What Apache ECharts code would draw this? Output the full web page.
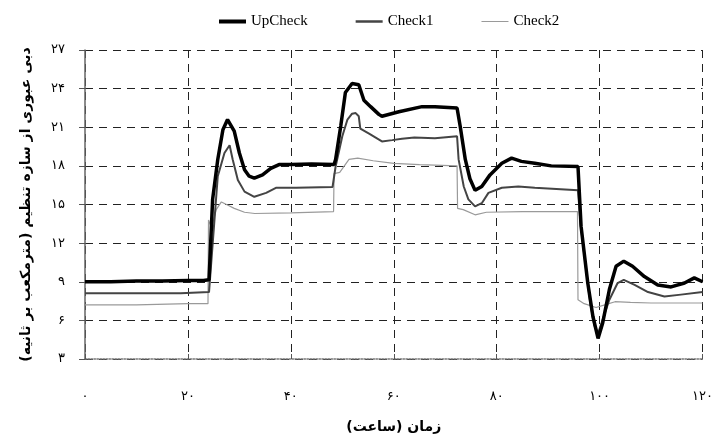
<!DOCTYPE html>
<html>
<head>
<meta charset="utf-8">
<script src="https://cdn.jsdelivr.net/npm/echarts@6/dist/echarts.min.js"></script>
<style>
  html, body { margin: 0; padding: 0; background: #fff; }
  #chart { width: 716px; height: 441px; }
</style>
</head>
<body>
<div id="chart"></div>
<script>
  // time (hours) and flow values
  var upTime = [0, 5, 10, 15, 20, 23, 24.1, 24.8, 25.8, 26.8, 27.7, 29.0, 30.0, 31.0, 31.9, 32.9, 34.5, 36.1, 37.7, 40, 44, 48.4,
    48.7, 49.7, 50.6, 51.9, 53.2, 54.2, 55.5, 57.1, 57.7, 61, 65.5, 68, 72.3,
    72.9, 73.9, 74.8, 75.8, 77.1, 78.7, 81.0, 82.9, 84.8, 87.4, 90.6, 95.8,
    96.4, 97.7, 98.7, 99.7, 100.6, 101.9, 103.2, 104.7, 106.4, 108.7, 111.3, 113.9, 116.5, 118.4, 120];
  var upValues = [9.0, 9.0, 9.05, 9.05, 9.1, 9.1, 9.15, 15.4, 18.5, 20.8, 21.6, 20.7, 19.0, 17.7, 17.2, 17.05, 17.3, 17.8, 18.1, 18.1, 18.15, 18.1,
    18.5, 21.1, 23.7, 24.4, 24.3, 23.1, 22.6, 22.0, 21.85, 22.2, 22.6, 22.6, 22.5,
    21.1, 18.5, 17.0, 16.1, 16.4, 17.3, 18.2, 18.6, 18.35, 18.2, 18.0, 17.95,
    13.3, 8.9, 6.3, 4.6, 5.8, 8.4, 10.2, 10.6, 10.2, 9.4, 8.75, 8.6, 8.9, 9.3, 9.0];

  var check1Time = [0, 10, 18.6, 18.7, 24.1, 25.8, 27.1, 28.1, 28.7, 29.7, 31.0, 32.9, 35.2, 37.1, 41, 48.1,
    48.7, 50.0, 51.0, 51.9, 52.6, 53.2, 53.5, 55.2, 57.7, 59.7, 61.6, 64, 68, 72.3,
    72.6, 73.6, 74.5, 75.8, 77.1, 78.4, 78.7, 81, 84.2, 87.4, 95.8,
    96.3, 97.2, 98.2, 99.0, 99.7, 101.9, 103.5, 104.7, 106.8, 109.4, 112.6, 115.8, 120];
  var check1Values = [8.1, 8.1, 8.1, 8.2, 8.2, 17.2, 19.0, 19.6, 18.5, 16.9, 16.0, 15.6, 15.9, 16.3, 16.3, 16.35,
    17.95, 20.3, 21.6, 22.05, 22.1, 21.85, 20.9, 20.5, 19.9, 20.0, 20.1, 20.2, 20.15, 20.3,
    18.5, 16.4, 15.4, 14.85, 15.1, 15.9, 16.0, 16.3, 16.4, 16.3, 16.1,
    13.5, 10.5, 7.3, 5.6, 5.0, 7.6, 8.9, 9.15, 8.75, 8.2, 7.85, 8.0, 8.2];

  var check2Time = [0, 10, 20, 23.9, 24.0, 24.6, 25.5, 26.5, 27.5, 29, 31, 33, 40, 48.3,
    48.4, 49.5, 51.3, 53, 56, 60, 65, 72.3,
    72.4, 73.5, 75.8, 78, 85, 95.7,
    95.8, 97, 99.3, 101, 103, 106, 110, 120];
  var check2Values = [7.2, 7.2, 7.3, 7.3, 13.8, 13.2, 14.6, 15.2, 15.0, 14.7, 14.4, 14.3, 14.35, 14.45,
    17.4, 17.5, 18.5, 18.6, 18.4, 18.2, 18.1, 18.0,
    14.7, 14.6, 14.2, 14.4, 14.45, 14.45,
    7.6, 7.3, 7.0, 7.2, 7.45, 7.4, 7.35, 7.35];

  var seriesNames = ['UpCheck', 'Check1', 'Check2'];

  function toFa(v) {
    return String(v).replace(/\d/g, function (d) { return '۰۱۲۳۴۵۶۷۸۹'[d]; });
  }
  function pairs(t, v) {
    return t.map(function (x, i) { return [x, v[i]]; });
  }

  var chart = echarts.init(document.getElementById('chart'));
  chart.setOption({
    animation: false,
    backgroundColor: '#fff',
    legend: {
      top: 9,
      left: 214,
      itemWidth: 27,
      itemHeight: 12,
      itemGap: 48,
      symbolKeepAspect: true,
      textStyle: { fontFamily: 'Liberation Serif', fontSize: 15, color: '#000' },
      data: [
        { name: seriesNames[0], icon: 'path://M0,0H27V4H0Z' },
        { name: seriesNames[1], icon: 'path://M0,0H27V2.5H0Z' },
        { name: seriesNames[2], icon: 'path://M0,0H27V1H0Z' }
      ]
    },
    grid: { left: 85, right: 11, top: 50, bottom: 82 },
    xAxis: {
      type: 'value',
      min: 0,
      max: 120,
      interval: 20,
      name: 'زمان (ساعت)',
      nameLocation: 'middle',
      nameGap: 61,
      nameTextStyle: { fontFamily: 'DejaVu Sans', fontWeight: 'bold', fontSize: 14, color: '#000' },
      axisLine: { lineStyle: { color: '#777', type: 'dotted', width: 1.5 } },
      axisTick: { inside: true, length: 5, lineStyle: { color: '#555' } },
      axisLabel: { margin: 31, fontFamily: 'DejaVu Sans', fontSize: 13, color: '#000', formatter: toFa },
      splitLine: { lineStyle: { color: '#222', type: [8, 6], width: 1 } }
    },
    yAxis: {
      type: 'value',
      min: 3,
      max: 27,
      interval: 3,
      name: 'دبی عبوری از سازه تنظیم (مترمکعب بر ثانیه)',
      nameLocation: 'middle',
      nameGap: 52,
      nameTextStyle: { fontFamily: 'DejaVu Sans', fontWeight: 'bold', fontSize: 14, color: '#000' },
      axisLine: { show: true, lineStyle: { color: '#666', width: 1.5 } },
      axisTick: { show: true, length: 6, lineStyle: { color: '#555' } },
      axisLabel: { margin: 20, fontFamily: 'DejaVu Sans', fontSize: 13, color: '#000', formatter: toFa },
      splitLine: { lineStyle: { color: '#222', type: [8, 6], width: 1 } }
    },
    series: [
      {
        name: seriesNames[0], type: 'line', showSymbol: false, symbol: 'none', z: 4,
        lineStyle: { color: '#000', width: 3.5 }, itemStyle: { color: '#000' },
        data: pairs(upTime, upValues)
      },
      {
        name: seriesNames[1], type: 'line', showSymbol: false, symbol: 'none', z: 3,
        lineStyle: { color: '#444', width: 2 }, itemStyle: { color: '#444' },
        data: pairs(check1Time, check1Values)
      },
      {
        name: seriesNames[2], type: 'line', showSymbol: false, symbol: 'none', z: 2,
        lineStyle: { color: '#9a9a9a', width: 1.2 }, itemStyle: { color: '#9a9a9a' },
        data: pairs(check2Time, check2Values)
      }
    ]
  });
</script>
</body>
</html>
